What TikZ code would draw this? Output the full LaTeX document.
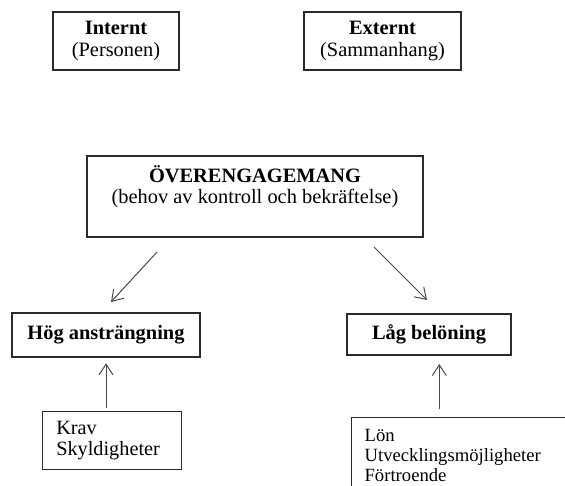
\documentclass[tikz,border=0pt]{standalone}
\usepackage{fontspec}
\setmainfont{Liberation Serif}
\usetikzlibrary{arrows.meta}
\definecolor{boxc}{HTML}{2A2A2A}
\definecolor{arrc}{HTML}{4A4A4A}
\begin{document}
\begin{tikzpicture}[x=0.75pt,y=-0.75pt,
  box/.style={draw=boxc, line width=0.9pt, inner sep=0pt, align=center,
    font=\fontsize{15.3}{17}\selectfont},
  txt/.style={inner sep=0pt, align=center, font=\fontsize{15.3}{15.75}\selectfont},
  listbox/.style={draw=boxc, line width=0.9pt, inner ysep=0pt, align=left,
    anchor=north west, font=\fontsize{15.2}{15.75}\selectfont},
  arr/.style={draw=arrc, line width=0.75pt, -{Straight Barb[length=8pt,width=10.5pt]}}]
\useasboundingbox (0,0) rectangle (565,486);
\clip (0,0) rectangle (565,486);

\node[box, minimum width={126*0.75pt}, minimum height={58*0.75pt}] (intern) at (116,41)
  {\textbf{Internt}\\(Personen)};
\node[box, minimum width={157*0.75pt}, minimum height={58*0.75pt}] (extern) at (382.5,41)
  {\textbf{Externt}\\(Sammanhang)};

\node[box, minimum width={336*0.75pt}, minimum height={81*0.75pt}] (over) at (255,196.5) {};
\node[txt, anchor=north] (overtext) at ([yshift=-7.5pt]over.north)
  {\textbf{ÖVERENGAGEMANG}\\(behov av kontroll och bekräftelse)};

\node[box, minimum width={188*0.75pt}, minimum height={44*0.75pt}] (hog) at (106,335)
  {\textbf{Hög ansträngning}};
\node[box, minimum width={164*0.75pt}, minimum height={41*0.75pt}] (lag) at (429,334.5)
  {\textbf{Låg belöning}};

\node[listbox, text width={111*0.75pt}, inner xsep={14*0.75pt}, minimum height={58*0.75pt}] (krav) at (41.7,411)
  {Krav\\Skyldigheter};
\node[listbox, text width={200*0.75pt}, inner xsep={13*0.75pt}, minimum height={76*0.75pt},
  font=\fontsize{14}{15}\selectfont] (lon) at (351,417)
  {Lön\\Utvecklingsmöjligheter\\Förtroende};

\coordinate (a1s) at (157,252);
\coordinate (a1e) at (111,302);
\coordinate (a2s) at (374,247);
\coordinate (a2e) at (427,300);
\coordinate (a4s) at (439.3,409.3);
\coordinate (a4e) at (439.3,364);

\draw[arr] (a1s) -- (a1e);
\draw[arr] (a2s) -- (a2e);
\draw[arr, shorten <=2.5pt, shorten >=4.3pt] (krav.north -| hog.south) -- (hog.south);
\draw[arr] (a4s) -- (a4e);
\end{tikzpicture}
\end{document}
